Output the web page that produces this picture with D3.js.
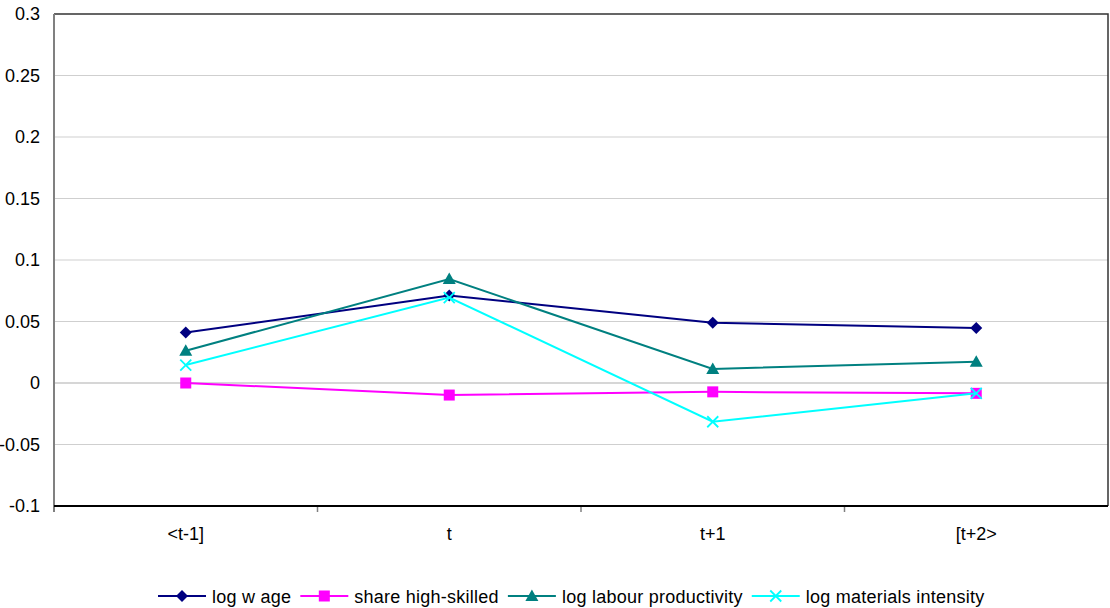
<!DOCTYPE html>
<html>
<head>
<meta charset="utf-8">
<script src="https://cdn.jsdelivr.net/npm/d3@7/dist/d3.min.js"></script>
<style>
  html, body { margin: 0; padding: 0; background: #fff; }
  svg { display: block; font-family: "Liberation Sans", Arial, sans-serif; }
</style>
</head>
<body>
<svg id="chart" width="1110" height="608"></svg>
<script>
// Periods on the horizontal axis
const periods = ["<t-1]", "t", "t+1", "[t+2>"];

// Series values per period
const logWage = [0.041, 0.0712, 0.049, 0.0447];
const shareHighSkilled = [0.0, -0.0098, -0.0072, -0.0084];
const logLabourProductivity = [0.0262, 0.0845, 0.0114, 0.0173];
const logMaterialsIntensity = [0.0146, 0.0695, -0.0315, -0.0084];

const seriesNames = ["log w age", "share high-skilled", "log labour productivity", "log materials intensity"];
const yTicks = [-0.1, -0.05, 0, 0.05, 0.1, 0.15, 0.2, 0.25, 0.3];

const series = [
  { name: seriesNames[0], values: logWage, color: "#000080", marker: "diamond" },
  { name: seriesNames[1], values: shareHighSkilled, color: "#FF00FF", marker: "square" },
  { name: seriesNames[2], values: logLabourProductivity, color: "#008080", marker: "triangle" },
  { name: seriesNames[3], values: logMaterialsIntensity, color: "#00FFFF", marker: "cross" }
];

const FONT = 18;
const svg = d3.select("#chart");
const plot = { left: 54, right: 1108, top: 14, bottom: 506 };

const x = d3.scaleBand().domain(periods).range([plot.left, plot.right]).paddingInner(0).paddingOuter(0);
const y = d3.scaleLinear().domain([-0.1, 0.3]).range([plot.bottom, plot.top]);
const cx = d => x(d) + x.bandwidth() / 2;

// Horizontal gridlines
svg.append("g").selectAll("line").data(yTicks.filter(v => v > -0.1 && v < 0.3)).join("line")
  .attr("x1", plot.left).attr("x2", plot.right)
  .attr("y1", d => y(d)).attr("y2", d => y(d))
  .attr("stroke", d => d === 0 ? "#d6d6d6" : "#cfcfcf")
  .attr("stroke-width", d => d === 0 ? 2 : 1);

// Plot frame: top and right edges
svg.append("path")
  .attr("d", `M${plot.left},${plot.top}H${plot.right}V${plot.bottom}`)
  .attr("fill", "none").attr("stroke", "#333").attr("stroke-width", 1.5);

// Y axis (plain hyphen for negatives)
const yAxis = d3.axisLeft(y).tickValues(yTicks).tickSize(0).tickPadding(14)
  .tickFormat(d => String(+d.toFixed(2)));
const gy = svg.append("g").attr("transform", `translate(${plot.left},0)`).call(yAxis);
gy.select(".domain").remove();
gy.selectAll("text").attr("font-size", FONT).attr("fill", "#000")
  .attr("font-family", "'Liberation Sans', Arial, sans-serif");
svg.append("line").attr("x1", plot.left).attr("x2", plot.left)
  .attr("y1", plot.top).attr("y2", plot.bottom + 6)
  .attr("stroke", "#808080").attr("stroke-width", 2);

// X axis with ticks between categories
const gx = svg.append("g").attr("transform", `translate(0,${plot.bottom})`)
  .call(d3.axisBottom(x).tickSize(0).tickPadding(21));
gx.select(".domain").remove();
gx.selectAll("text").attr("font-size", FONT).attr("fill", "#000")
  .attr("font-family", "'Liberation Sans', Arial, sans-serif");
gx.append("g").selectAll("line").data(periods.slice(1)).join("line")
  .attr("x1", d => x(d)).attr("x2", d => x(d))
  .attr("y1", 0).attr("y2", 6)
  .attr("stroke", "#808080").attr("stroke-width", 1.5);
svg.append("line").attr("x1", plot.left).attr("x2", plot.right)
  .attr("y1", plot.bottom).attr("y2", plot.bottom)
  .attr("stroke", "#000").attr("stroke-width", 2);

// Marker shapes
function drawMarker(g, type, color) {
  if (type === "diamond") {
    g.append("path").attr("d", "M0,-6L6,0L0,6L-6,0Z").attr("fill", color);
  } else if (type === "square") {
    g.append("rect").attr("x", -5.5).attr("y", -5.5).attr("width", 11).attr("height", 11).attr("fill", color);
  } else if (type === "triangle") {
    g.append("path").attr("d", "M0,-6.5L6.5,5L-6.5,5Z").attr("fill", color);
  } else {
    g.append("path").attr("d", "M-5.5,-5.5L5.5,5.5M-5.5,5.5L5.5,-5.5")
      .attr("stroke", color).attr("stroke-width", 1.8).attr("fill", "none");
  }
}

const line = d3.line().x((d, i) => cx(periods[i])).y(d => y(d));

series.forEach(s => {
  svg.append("path").attr("d", line(s.values))
    .attr("fill", "none").attr("stroke", s.color).attr("stroke-width", 2);
  s.values.forEach((v, i) => {
    const g = svg.append("g").attr("transform", `translate(${cx(periods[i])},${y(v)})`);
    drawMarker(g, s.marker, s.color);
  });
});

// Legend
const legend = svg.append("g");
const legendY = 596;
let lx = 158;
series.forEach(s => {
  const item = legend.append("g").attr("transform", `translate(${lx},${legendY})`);
  item.append("line").attr("x1", 0).attr("x2", 48).attr("y1", 0).attr("y2", 0)
    .attr("stroke", s.color).attr("stroke-width", 2);
  drawMarker(item.append("g").attr("transform", "translate(24,0)"), s.marker, s.color);
  const t = item.append("text").attr("x", 54).attr("y", 6.5).attr("font-size", FONT)
    .attr("letter-spacing", 0.25).attr("fill", "#000").text(s.name);
  lx += 54 + t.node().getComputedTextLength() + 9;
});
</script>
</body>
</html>
